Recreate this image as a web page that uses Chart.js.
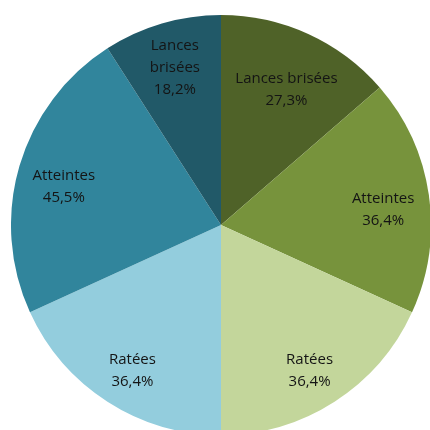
<!DOCTYPE html>
<html lang="fr">
<head>
<meta charset="UTF-8">
<title>Répartition des lances</title>
<script src="https://cdn.jsdelivr.net/npm/chart.js"></script>
<style>
    html, body { margin: 0; padding: 0; background: #fff; overflow: hidden; width: 430px; height: 430px; }
    #wrap { position: absolute; left: 11px; top: 15px; width: 420px; height: 420px; }
</style>
</head>
<body>
<div id="wrap"><canvas id="pie" width="420" height="420"></canvas></div>
<script>
    // slices clockwise from 12 o'clock; each half of the pie is one rider (100% each)
    const categories = ['Lances brisées', 'Atteintes', 'Ratées', 'Ratées', 'Atteintes', 'Lances brisées'];
    const percentages = [27.3, 36.4, 36.4, 36.4, 45.5, 18.2];
    const colors = ['#4F6228', '#77933C', '#C3D69B', '#93CDDD', '#31859C', '#215968'];

    // draws "name / xx,x%" inside each slice
    const sliceLabels = {
        id: 'sliceLabels',
        afterDatasetsDraw(chart) {
            const ctx = chart.ctx;
            const meta = chart.getDatasetMeta(0);
            ctx.save();
            ctx.font = '15px "Open Sans", sans-serif';
            ctx.fillStyle = '#141414';
            ctx.textAlign = 'center';
            ctx.textBaseline = 'middle';
            meta.data.forEach((arc, i) => {
                const p = arc.getProps(['x', 'y', 'startAngle', 'endAngle', 'outerRadius'], true);
                const mid = (p.startAngle + p.endAngle) / 2;
                let lines = [categories[i]];
                let shift = 8;
                // narrow slices get the name wrapped
                if (p.endAngle - p.startAngle < 0.7) {
                    lines = categories[i].split(' ');
                    shift = 0;
                }
                lines.push(percentages[i].toFixed(1).replace('.', ',') + '%');
                const r = p.outerRadius * (i === 0 ? 0.75 : 0.78);
                const cx = p.x + Math.cos(mid) * r;
                const cy = p.y + Math.sin(mid) * r + shift;
                const lh = 22;
                const y0 = cy - (lines.length - 1) * lh / 2;
                lines.forEach((t, k) => ctx.fillText(t, cx, y0 + k * lh));
            });
            ctx.restore();
        }
    };

    new Chart(document.getElementById('pie'), {
        type: 'pie',
        data: {
            labels: categories,
            datasets: [{
                data: percentages,
                backgroundColor: colors,
                borderWidth: 0,
                hoverBorderWidth: 0,
                hoverOffset: 0
            }]
        },
        options: {
            responsive: false,
            animation: false,
            layout: { padding: 0 },
            plugins: {
                legend: { display: false },
                tooltip: { enabled: false }
            }
        },
        plugins: [sliceLabels]
    });
</script>
</body>
</html>
